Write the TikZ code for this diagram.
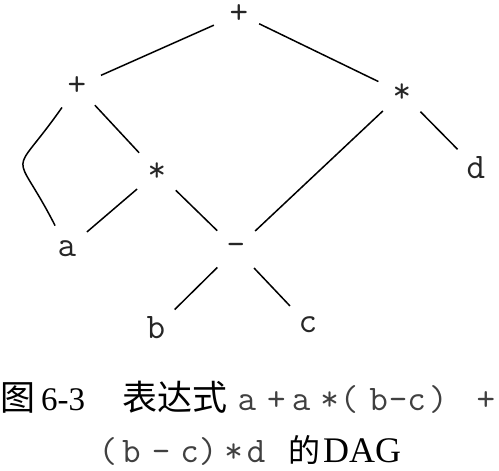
\documentclass[tikz,border=0pt]{standalone}
\usepackage{fontspec}
\setmainfont{Liberation Serif}
\newfontfamily\cjk{Noto Sans CJK SC}
\usepackage{tikz}

\begin{document}
\begin{tikzpicture}[x=1pt,y=1pt,
    dagnode/.style={circle,inner sep=0pt,minimum size=52pt,text=black!85,
        font=\ttfamily\fontsize{36}{36}\selectfont},
    starnode/.style={dagnode,yshift=-5pt},
    edge/.style={line width=1.5pt},
    captext/.style={inner sep=0pt,anchor=base west}]
            \useasboundingbox (0,0) rectangle (499,471);
            % the DAG
            \node (root) at (239,457) [dagnode,minimum size=20pt] {+};
            \node (lplus) at (77,385) [dagnode] {+};
            \node (rstar) at (402,383) [starnode] {*};
            \node (mstar) at (157,304) [starnode] {*};
            \node (d) at (476,303) [dagnode] {d};
            \node (a) at (67,222) [dagnode] {a};
            \node (minus) at (236,222) [dagnode] {–};
            \node (b) at (156,143) [dagnode] {b};
            \node (c) at (308,146) [dagnode] {c};
            \draw[edge,shorten <=14pt] (root) -- (lplus);
            \draw[edge,shorten <=9pt] (root) -- (rstar);
            \draw[edge] (lplus) to[out=235,in=117,looseness=2] (a);
            \draw[edge] (lplus) -- (mstar) (rstar) -- (minus) (rstar) -- (d);
            \draw[edge] (mstar) -- (a) (mstar) -- (minus);
            \draw[edge] (minus) -- (b) (minus) -- (c);
            % caption
            \node (fig) at (0,60) [captext,font=\cjk\fontsize{35}{35}\selectfont] {图};
            \node (num) at (41,60) [captext,font=\fontsize{33}{33}\selectfont] {6-3};
            \node (expr) at (122,60) [captext,font=\cjk\fontsize{35}{35}\selectfont] {表达式};
            \node (lineone) at (237.5,60) [captext,text=black!75,font=\ttfamily\fontsize{36}{36}\selectfont]
                {a\hspace{11pt}+\hspace{6pt}a\hspace{10pt}*\hspace{1pt}(\hspace{11pt}b\hspace{1pt}-c\hspace{3pt})\hspace{29pt}+};
            \node (linetwo) at (98.5,8) [captext,text=black!75,font=\ttfamily\fontsize{36}{36}\selectfont]
                {(\hspace{5pt}b\hspace{11pt}-\hspace{10pt}c)\hspace{7pt}*\hspace{4pt}d};
            \node (of) at (288,8) [captext,font=\cjk\fontsize{32}{32}\selectfont] {的};
            \node (dag) at (323,8) [captext,font=\fontsize{36}{36}\selectfont] {DAG};
        \end{tikzpicture}
\end{document}
